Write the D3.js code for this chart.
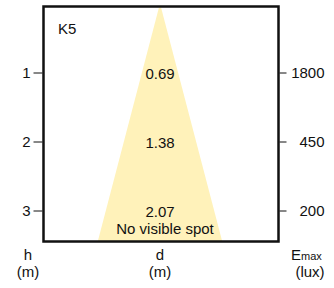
<!DOCTYPE html>
<html>
<head>
<meta charset="utf-8">
<script src="https://cdn.jsdelivr.net/npm/d3@7"></script>
<style>
  body { margin: 0; background: #fff; }
  text { font-family: "Liberation Sans", Arial, sans-serif; fill: #111; }
</style>
</head>
<body>
<div id="chart"></div>
<script>
// data
const heights = [1, 2, 3];              // h (m)
const diameters = [0.69, 1.38, 2.07];   // d (m)
const emax = [1800, 450, 200];          // Emax (lux)
const coneH = [0, 3.5];                 // cone drawn from apex to below the frame
const coneD = [0, 2.42];
const model = "K5";
const note = "No visible spot";

const W = 334, H = 288;
const frame = { left: 43.5, top: 6.5, right: 278.5, bottom: 241.5 };

const svg = d3.select("#chart")
    .append("svg")
    .attr("width", W)
    .attr("height", H);

// scales
const y = d3.scaleLinear().domain([0, 3]).range([3.5, 210.5]);
const x = d3.scaleLinear().domain([-1, 1]).range([160 - 52.2, 160 + 52.2]);

svg.append("clipPath")
    .attr("id", "clip")
    .append("rect")
    .attr("x", frame.left)
    .attr("y", frame.top + 1)
    .attr("width", frame.right - frame.left)
    .attr("height", frame.bottom - frame.top - 1);

// cone of light
const cone = coneH.map((h, i) => ({ h: h, d: coneD[i] }));
const pts = cone.map(c => [x(c.d / 2), y(c.h)])
    .concat(cone.slice().reverse().map(c => [x(-c.d / 2), y(c.h)]));

svg.append("polygon")
    .attr("clip-path", "url(#clip)")
    .attr("points", pts.map(p => p.join(",")).join(" "))
    .attr("fill", "#fff2ba");

// frame
svg.append("rect")
    .attr("x", frame.left)
    .attr("y", frame.top)
    .attr("width", frame.right - frame.left)
    .attr("height", frame.bottom - frame.top)
    .attr("fill", "none")
    .attr("stroke", "#111")
    .attr("stroke-width", 2.5);

// axes
const left = svg.append("g")
    .attr("transform", `translate(${frame.left - 1},0)`)
    .call(d3.axisLeft(y).tickValues(heights).tickSize(9).tickPadding(3)
        .tickFormat(d3.format("d")));

const right = svg.append("g")
    .attr("transform", `translate(${frame.right + 1},0)`)
    .call(d3.axisRight(y).tickValues(heights).tickSize(7).tickPadding(5)
        .tickFormat((d, i) => emax[i]));

[left, right].forEach(g => {
    g.select(".domain").remove();
    g.attr("font-family", null).attr("font-size", null);
    g.selectAll("line").attr("stroke", "#111");
    g.selectAll("text").style("font-size", "15px").attr("fill", "#111");
});
right.selectAll("text").attr("text-anchor", "end").attr("x", 45);

// diameter labels
svg.selectAll(".dlabel")
    .data(heights)
    .enter()
    .append("text")
    .attr("class", "dlabel")
    .attr("x", x(0))
    .attr("y", d => y(d))
    .attr("dy", "0.42em")
    .attr("text-anchor", "middle")
    .style("font-size", "15px")
    .text((d, i) => diameters[i].toFixed(2));

svg.append("text")
    .attr("x", x(0) + 5)
    .attr("y", y(3) + 23)
    .attr("text-anchor", "middle")
    .style("font-size", "15px")
    .text(note);

svg.append("text")
    .attr("x", 58)
    .attr("y", 34)
    .style("font-size", "15px")
    .text(model);

// axis titles
const titles = [
    { x: 28, top: "h", bottom: "(m)" },
    { x: x(0), top: "d", bottom: "(m)" }
];
titles.forEach(t => {
    svg.append("text").attr("x", t.x).attr("y", 260)
        .attr("text-anchor", "middle").style("font-size", "15px").text(t.top);
    svg.append("text").attr("x", t.x).attr("y", 277)
        .attr("text-anchor", "middle").style("font-size", "15px").text(t.bottom);
});

const e = svg.append("text").attr("x", 291).attr("y", 260).style("font-size", "15px");
e.append("tspan").text("E");
e.append("tspan").style("font-size", "11px").text("max");
svg.append("text").attr("x", 310).attr("y", 277)
    .attr("text-anchor", "middle").style("font-size", "15px").text("(lux)");
</script>
</body>
</html>
